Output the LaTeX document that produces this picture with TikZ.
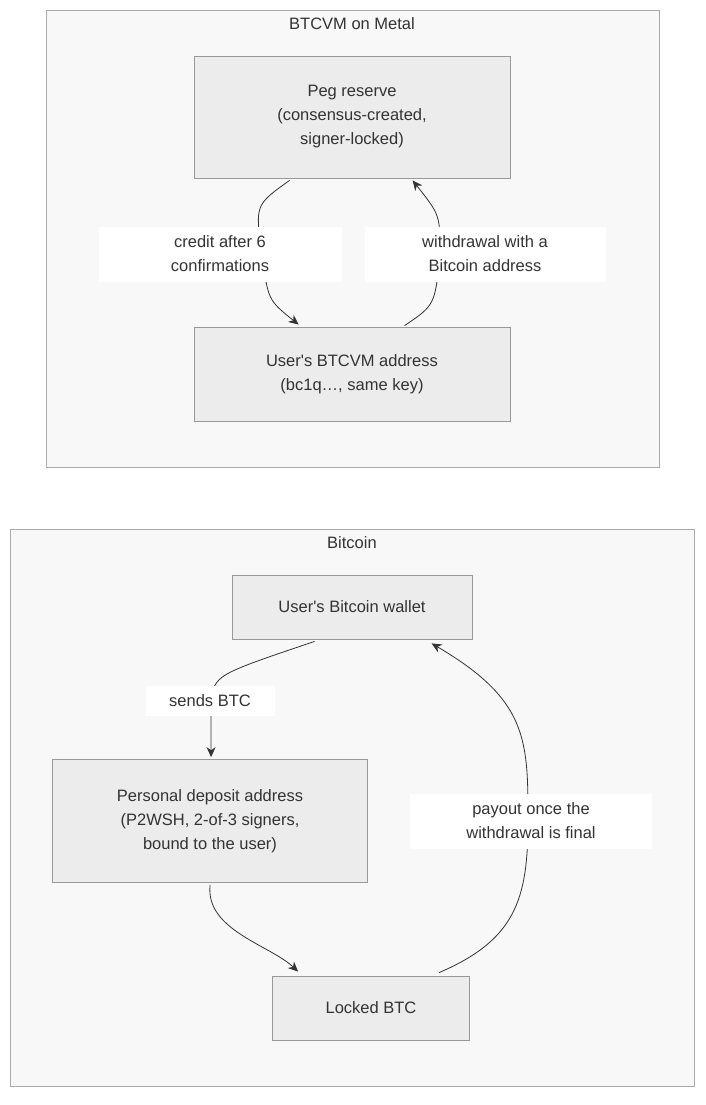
\documentclass[tikz,border=0pt]{standalone}
\usepackage{fontspec}
\setmainfont{Liberation Sans}
\usetikzlibrary{calc, positioning, arrows.meta}
\definecolor{clusterFill}{HTML}{F8F8F8}
\definecolor{clusterLine}{HTML}{AAAAAA}
\definecolor{boxFill}{HTML}{ECECEC}
\definecolor{boxLine}{HTML}{999999}
\definecolor{flowLine}{HTML}{333333}

\begin{document}
\begin{tikzpicture}[x=1pt, y=-1pt,
		box/.style={draw=boxLine, fill=boxFill, thick, inner sep=0pt, align=center,
			font=\fontsize{16.5}{24}\selectfont, text=flowLine},
		lbl/.style={fill=white, inner sep=0pt, align=center,
			font=\fontsize{16.5}{24}\selectfont, text=flowLine},
		flow/.style={draw=flowLine, thick, -{Stealth[length=10pt, width=9pt]}}]
		\useasboundingbox (0,0) rectangle (705,1105);
		%-------------------------------------------------------------------------------
		% clusters
		%-------------------------------------------------------------------------------
		\draw[clusterLine, fill=clusterFill, thick] (46,10) rectangle (659,467);
		\node[lbl, fill=none] (metal) at (352,24) {BTCVM on Metal};
		\draw[clusterLine, fill=clusterFill, thick] (10,529) rectangle (694,1086);
		\node[lbl, fill=none] (btc) at (352,543) {Bitcoin};
		
		% core nodes
		\node[box, minimum width=316, minimum height=122] (peg)
			at (352,117) {Peg reserve\\(consensus-created,\\signer-locked)};
		\node[box, minimum width=316, minimum height=94] (user)
			at (352,374) {User\textquotesingle s BTCVM address\\(bc1q…, same key)};
		\node[box, minimum width=240, minimum height=64] (wallet)
			at (352,607) {User\textquotesingle s Bitcoin wallet};
		\node[box, minimum width=315, minimum height=123] (deposit)
			at (210,821) {Personal deposit address\\(P2WSH, 2-of-3 signers,\\bound to the user)};
		\node[box, minimum width=197, minimum height=64] (locked)
			at (371,1008) {Locked BTC};
		
		% peg flows
		\draw[flow] ($(peg.south west)+(96,2)$) .. controls (255,205) .. (262,254)
			.. controls (268,300) .. ($(user.north west)+(105,-2)$);
		\draw[flow] ($(user.north west)+(211,-1)$) .. controls (435,305) .. (440,254)
			.. controls (440,215) .. ($(peg.south west)+(219,2)$);
		% bitcoin flows
		\draw[flow] ($(wallet.south west)+(83,2)$) .. controls (215,675) .. (211,701)
			-- ($(deposit.north west)+(159,-2)$);
		\draw[flow] ($(deposit.south west)+(158,2)$) .. controls (205,930) and (270,945)
			.. ($(locked.north west)+(26,-4)$);
		\draw[flow] ($(locked.north west)+(167,-3)$) .. controls (515,940) and (528,900) .. (528,821)
			.. controls (528,740) and (528,700) .. ($(wallet.south west)+(200,4)$);
		
		% labels
		\node[lbl, minimum width=243, minimum height=55] (credit)
			at (220,254) {credit after 6\\confirmations};
		\node[lbl, minimum width=241, minimum height=55] (withdraw)
			at (485,254) {withdrawal with a\\Bitcoin address};
		\node[lbl, minimum width=129, minimum height=30] (sends)
			at (210,701) {sends BTC};
		\node[lbl, minimum width=242, minimum height=55] (payout)
			at (531,821) {payout once the\\withdrawal is final};
		\end{tikzpicture}
\end{document}
